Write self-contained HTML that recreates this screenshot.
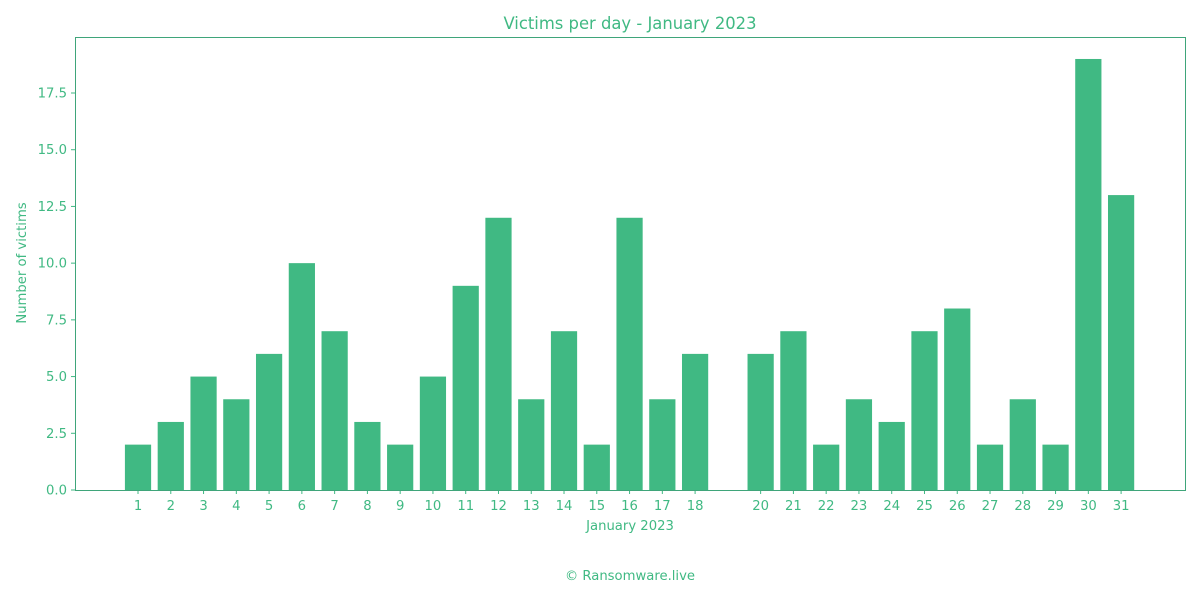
<!DOCTYPE html>
<html><head><meta charset="utf-8"><style>
body{margin:0;background:#fff;width:1200px;height:600px;overflow:hidden}
svg text{font-family:"DejaVu Sans","Liberation Sans",sans-serif;fill:#40b983}
</style></head><body>
<svg id="c" width="1200" height="600"></svg>
<script>
const days=[1,2,3,4,5,6,7,8,9,10,11,12,13,14,15,16,17,18,20,21,22,23,24,25,26,27,28,29,30,31];
const victims=[2,3,5,4,6,10,7,3,2,5,9,12,4,7,2,12,4,6,6,7,2,4,3,7,8,2,4,2,19,13];
const yTicks=[0,2.5,5,7.5,10,12.5,15,17.5];
const yTickLabels=["0.0","2.5","5.0","7.5","10.0","12.5","15.0","17.5"];
const C="#40b983",ns="http://www.w3.org/2000/svg",svg=document.getElementById('c');
const L=75,R=1185,T=37,B=490;
const x=d=>L+(d+0.923)*(R-L)/(32.95+0.923);
const y=v=>B-v*(B-93)/17.5;
const bw=0.8*(R-L)/(32.95+0.923);
function el(t,a,txt){const e=document.createElementNS(ns,t);for(const k in a)e.setAttribute(k,a[k]);if(txt!==undefined)e.textContent=txt;svg.appendChild(e);return e;}
days.forEach((d,i)=>{
 const r=el('rect',{x:x(d)-bw/2,y:y(victims[i]),width:bw,height:B-y(victims[i]),fill:C});
 
 
 el('line',{x1:x(d),x2:x(d),y1:B,y2:B+4,stroke:C});
 const t=el('text',{x:x(d),y:B+20,'text-anchor':'middle','font-size':13.2},d);
 
 
});
yTicks.forEach((v,i)=>{
 el('line',{x1:L-4,x2:L,y1:y(v),y2:y(v),stroke:C});
 const t=el('text',{x:L-8,y:y(v)+4.5,'text-anchor':'end','font-size':13.2},yTickLabels[i]);
 
 
});
const f=el('rect',{x:L+0.5,y:T+0.5,width:R-L,height:B-T,fill:'none',stroke:'#3fa57a','stroke-width':1});

let t=el('text',{x:630,y:29,'text-anchor':'middle','font-size':16.4},'Victims per day - January 2023');

t=el('text',{x:630,y:530,'text-anchor':'middle','font-size':13.2},'January 2023');

t=el('text',{x:0,y:0,'text-anchor':'middle','font-size':13.2,transform:'translate(26,263) rotate(-90)'},'Number of victims');

t=el('text',{x:630,y:580,'text-anchor':'middle','font-size':13.2},'© Ransomware.live');

</script>
</body></html>
